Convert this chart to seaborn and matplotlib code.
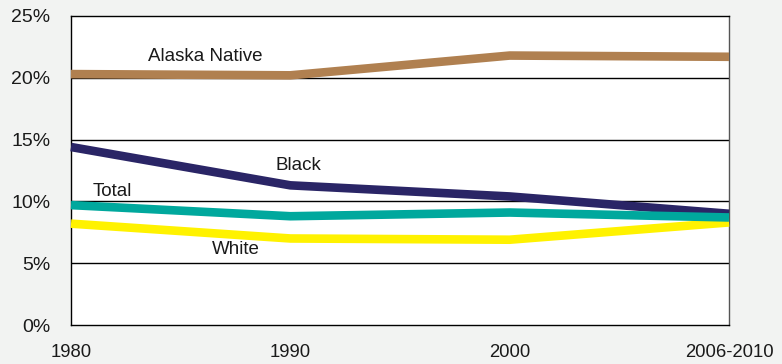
import matplotlib
matplotlib.use("Agg")
import matplotlib.pyplot as plt
import seaborn as sns
import pandas as pd

# Chart data
periods = ['1980', '1990', '2000', '2006-2010']
alaska_native = [20.3, 20.2, 21.8, 21.7]
black = [14.4, 11.3, 10.4, 9.0]
total = [9.7, 8.8, 9.1, 8.7]
white = [8.2, 7.0, 6.9, 8.3]

series_names = ['Alaska Native', 'White', 'Black', 'Total']
series_values = [alaska_native, white, black, total]
colors = {'Alaska Native': '#b08050', 'Black': '#2a2566',
          'Total': '#00a89d', 'White': '#fff200'}

rows = []
for name, vals in zip(series_names, series_values):
    for i, v in enumerate(vals):
        rows.append({'pos': i, 'period': periods[i], 'value': v, 'group': name})
df = pd.DataFrame(rows)

sns.set_style('white')
plt.rcParams['font.family'] = ['Liberation Sans', 'DejaVu Sans']

fig = plt.figure(figsize=(7.82, 3.64), dpi=100, facecolor='#f2f3f2')
ax = fig.add_axes([71 / 782, 39 / 364, 658 / 782, 309 / 364])
ax.set_facecolor('white')

for name in series_names:
    sub = df[df['group'] == name]
    sns.lineplot(data=sub, x='pos', y='value', color=colors[name], linewidth=6.2,
                 ax=ax, sort=False, legend=False, clip_on=False, zorder=3,
                 solid_capstyle='butt')

ax.set_xlim(0, len(periods) - 1)
ax.set_ylim(0, 25)
ax.set_yticks([0, 5, 10, 15, 20, 25])
ax.set_yticklabels(['0%', '5%', '10%', '15%', '20%', '25%'])
ax.set_xticks(range(len(periods)))
ax.set_xticklabels(periods)
ax.set_xlabel('')
ax.set_ylabel('')

for y in [5, 10, 15, 20]:
    ax.axhline(y, color='black', linewidth=1, zorder=1)

ax.tick_params(axis='y', length=0, pad=15, labelsize=14, labelcolor='#1a1a1a')
ax.tick_params(axis='x', length=8, width=1, color='#666666', pad=6,
               labelsize=13.3, labelcolor='#1a1a1a')

for side in ['left', 'bottom', 'top']:
    ax.spines[side].set_color('black')
    ax.spines[side].set_linewidth(1)
ax.spines['right'].set_color('#555555')
ax.spines['right'].set_linewidth(1)

# Series labels
ax.text(0.61, 21.7, 'Alaska Native', fontsize=13.5, ha='center', va='center', color='#1a1a1a')
ax.text(1.035, 12.9, 'Black', fontsize=13.5, ha='center', va='center', color='#1a1a1a')
ax.text(0.19, 10.8, 'Total', fontsize=13.5, ha='center', va='center', color='#1a1a1a')
ax.text(0.75, 6.1, 'White', fontsize=13.5, ha='center', va='center', color='#1a1a1a')

fig.savefig('out.png', dpi=100, facecolor=fig.get_facecolor())
